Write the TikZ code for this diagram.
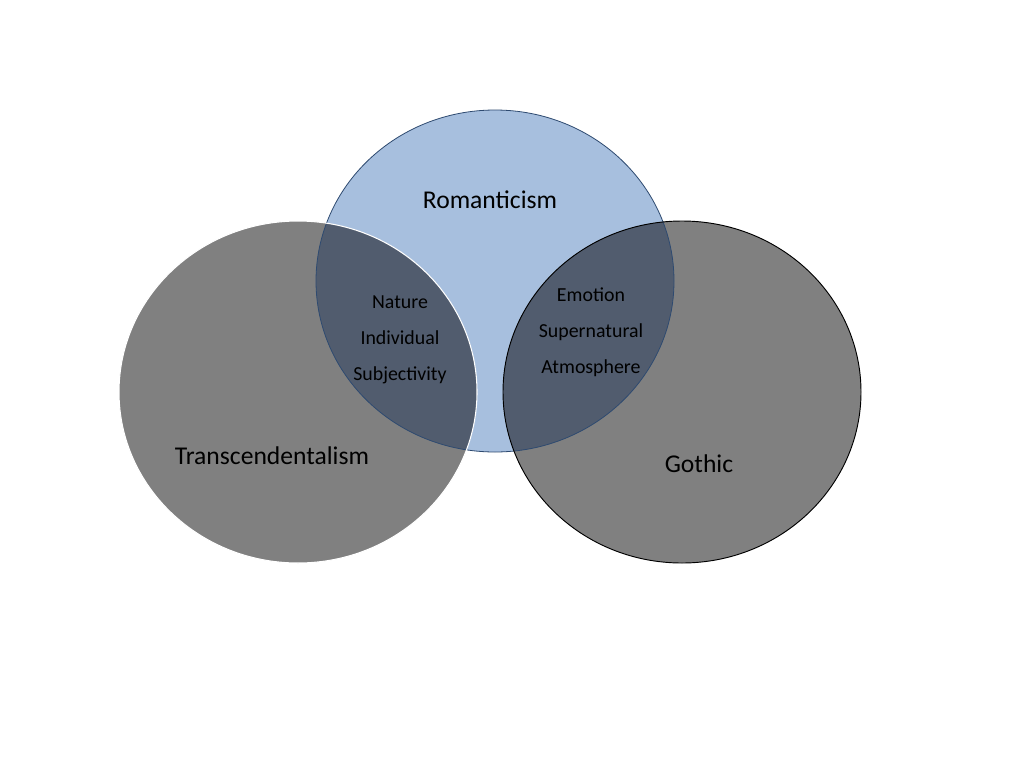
\documentclass[tikz,border=0pt]{standalone}
\usepackage{fontspec}
\setmainfont{Carlito}
\definecolor{romfill}{HTML}{A7BFDE}
\definecolor{romline}{HTML}{2E4A70}
\definecolor{grayfill}{HTML}{808080}
\definecolor{overlap}{HTML}{515C6E}
\begin{document}
\begin{tikzpicture}[x=0.75pt,y=-0.75pt,
  bigtext/.style={font=\fontsize{19.2}{23}\selectfont, text=black},
  smalltext/.style={font=\fontsize{14.9}{27}\selectfont, text=black, align=center},
  rx/.style={x radius=134.25pt, y radius=128.25pt}]
\useasboundingbox (0,0) rectangle (1024,768);
\fill[white] (0,0) rectangle (1024,768);
% base fills
\fill[romfill] (495,281) ellipse [rx];
\fill[grayfill] (298,392) ellipse [rx];
\fill[grayfill] (682,392) ellipse [rx];
% overlaps
\begin{scope}
  \clip (495,281) ellipse [rx];
  \fill[overlap] (298,392) ellipse [rx];
  \fill[overlap] (682,392) ellipse [rx];
\end{scope}
% outlines
\draw[romline, line width=0.6pt] (495,281) ellipse [rx];
\draw[white, line width=0.8pt] (298,392) ellipse [rx];
\draw[black, line width=0.7pt] (682,392) ellipse [rx];
% labels
\node[bigtext] (rom) at (490,200) {Romanticism};
\node[bigtext] (tra) at (272,456) {Transcendentalism};
\node[bigtext] (got) at (699,464) {Gothic};
\node[smalltext] (left) at (400,340) {Nature\\Individual\\Subjectivity};
\node[smalltext] (right) at (591,332) {Emotion\\Supernatural\\Atmosphere};
\end{tikzpicture}
\end{document}
